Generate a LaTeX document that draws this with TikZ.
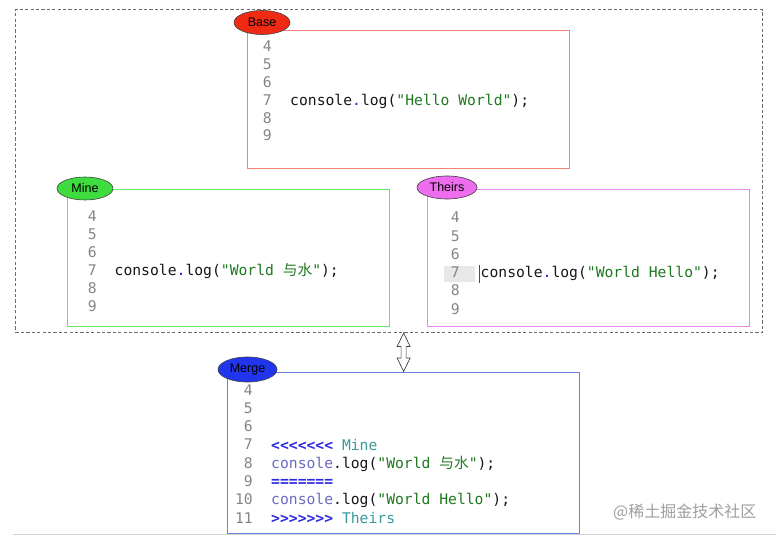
\documentclass[tikz,border=0pt]{standalone}
\usepackage{fontspec}
\setmainfont{Liberation Sans}
\setmonofont{DejaVu Sans Mono}
\newfontfamily\cjk{Noto Sans CJK SC}
\usetikzlibrary{calc,shapes.geometric}
\definecolor{numgray}{HTML}{858585}
\definecolor{codeblk}{HTML}{161616}
\definecolor{dotblue}{HTML}{2020C8}
\definecolor{strgreen}{HTML}{1F781F}
\definecolor{lav}{HTML}{6A6AC2}
\definecolor{mkblue}{HTML}{2A2AE0}
\definecolor{tealc}{HTML}{3A9A9A}
\definecolor{baseline}{HTML}{F08276}
\definecolor{mineline}{HTML}{66EA66}
\definecolor{theirsline}{HTML}{EC88EC}
\definecolor{mergeline}{HTML}{6685DC}
\definecolor{basefill}{HTML}{F02A14}
\definecolor{minefill}{HTML}{3EDC3E}
\definecolor{theirsfill}{HTML}{EE6CEE}
\definecolor{mergefill}{HTML}{2235EE}
\definecolor{outerc}{HTML}{6A6A6A}
\newcommand\codefont{\ttfamily\fontsize{14.7}{17}\selectfont}
\tikzset{
  codebox/.style={draw, line width=1.25pt, anchor=north west, inner sep=0pt, rectangle},
  tag/.style={ellipse, draw=black!75, line width=0.6pt, minimum width=57pt, minimum height=24pt, inner sep=0pt, font=\fontsize{12.5}{12.5}\selectfont},
  num/.style={anchor=base east, inner sep=0pt, text=numgray, font=\codefont},
  code/.style={anchor=base west, inner sep=0pt, text=codeblk, font=\codefont},
}
\begin{document}
\begin{tikzpicture}[x=1pt, y=-1pt]
\useasboundingbox (0,0) rectangle (776,537);
% screenshot bottom rule (under everything)
\draw[black!18, line width=1.5pt] (13,534.5) -- (776,534.5);
% outer dashed frame
\node[draw=outerc, line width=1pt, dash pattern=on 3.2pt off 2.2pt, anchor=north west, inner sep=0pt,
      minimum width=747pt, minimum height=322.5pt] (outer) at (15,9.5) {};
% boxes
\node[codebox, draw=baseline, minimum width=322pt, minimum height=138pt] (base) at (246.5,30) {};
\node[codebox, draw=mineline, minimum width=322pt, minimum height=137pt] (mine) at (67,189) {};
\node[codebox, draw=theirsline, minimum width=322pt, minimum height=137pt] (theirs) at (427,189) {};
\node[codebox, draw=mergeline, minimum width=352pt, minimum height=161.5pt] (merge) at (227,371.5) {};
% tags
\node[tag, fill=basefill, minimum width=56pt] (basetag) at (262,22.5) {Base};
\node[tag, fill=minefill, minimum width=56pt, minimum height=23pt] (minetag) at (85,188.5) {Mine};
\node[tag, fill=theirsfill, minimum width=60pt, minimum height=23pt] (theirstag) at (447,187.5) {Theirs};
\node[tag, fill=mergefill, minimum width=59pt, minimum height=25pt] (mergetag) at (247.5,369.5) {Merge};
% base code
\foreach \n [evaluate=\n as \yy using 52+17.8*(\n-4)] in {4,...,9}
  \node[num] (bn\n) at (272,\yy) {\n};
\node[code] (bcode) at (290,105.4) {console{\color{dotblue}.}log({\color{strgreen}"Hello World"});};
% mine code
\foreach \n [evaluate=\n as \yy using 222+18*(\n-4)] in {4,...,9}
  \node[num] (mn\n) at (97,\yy) {\n};
\node[code] (mcode) at (114.5,276) {console{\color{dotblue}.}log({\color{strgreen}"World {\cjk 与水}"});};
% theirs code
\fill[black!9] (444,266) rectangle (475,282);
\foreach \n [evaluate=\n as \yy using 223+18.2*(\n-4)] in {4,...,9}
  \node[num] (tn\n) at (460,\yy) {\n};
\draw[black!70, line width=0.6pt] (478.8,265) -- (478.8,283);
\node[code] (tcode) at (480.5,277.6) {console{\color{dotblue}.}log({\color{strgreen}"World Hello"});};
% merge code
\foreach \n [evaluate=\n as \yy using 395+18.3*(\n-4)] in {4,...,11}
  \node[num] (gn\n) at (253,\yy) {\n};
\node[code] (g7) at (271,450) {{\bfseries\color{mkblue}<<<<<<<} {\color{tealc}Mine}};
\node[code] (g8) at (271,468.3) {{\color{lav}console}.log({\color{strgreen}"World {\cjk 与水}"});};
\node[code] (g9) at (271,486.6) {{\bfseries\color{mkblue}=======}};
\node[code] (g10) at (271,504.9) {{\color{lav}console}.log({\color{strgreen}"World Hello"});};
\node[code] (g11) at (271,523.2) {{\bfseries\color{mkblue}>>>>>>>} {\color{tealc}Theirs}};
% hollow double arrow between outer frame and merge box
\coordinate (atop) at (merge.north |- outer.south);
\coordinate (abot) at (merge.north);
\draw[black!75, line width=0.7pt, fill=white]
  (atop) -- ($(atop)+(6.5,13.5)$) -- ($(atop)+(2.5,13.5)$) -- ($(abot)+(2.5,-13.5)$)
  -- ($(abot)+(6.5,-13.5)$) -- (abot) -- ($(abot)+(-6.5,-13.5)$) -- ($(abot)+(-2.5,-13.5)$)
  -- ($(atop)+(-2.5,13.5)$) -- ($(atop)+(-6.5,13.5)$) -- cycle;
% watermark
\node[anchor=base west, inner sep=0pt, text=black!38, font=\cjk\fontsize{16}{16}\selectfont] (wm) at (613,517) {@稀土掘金技术社区};
\end{tikzpicture}
\end{document}
